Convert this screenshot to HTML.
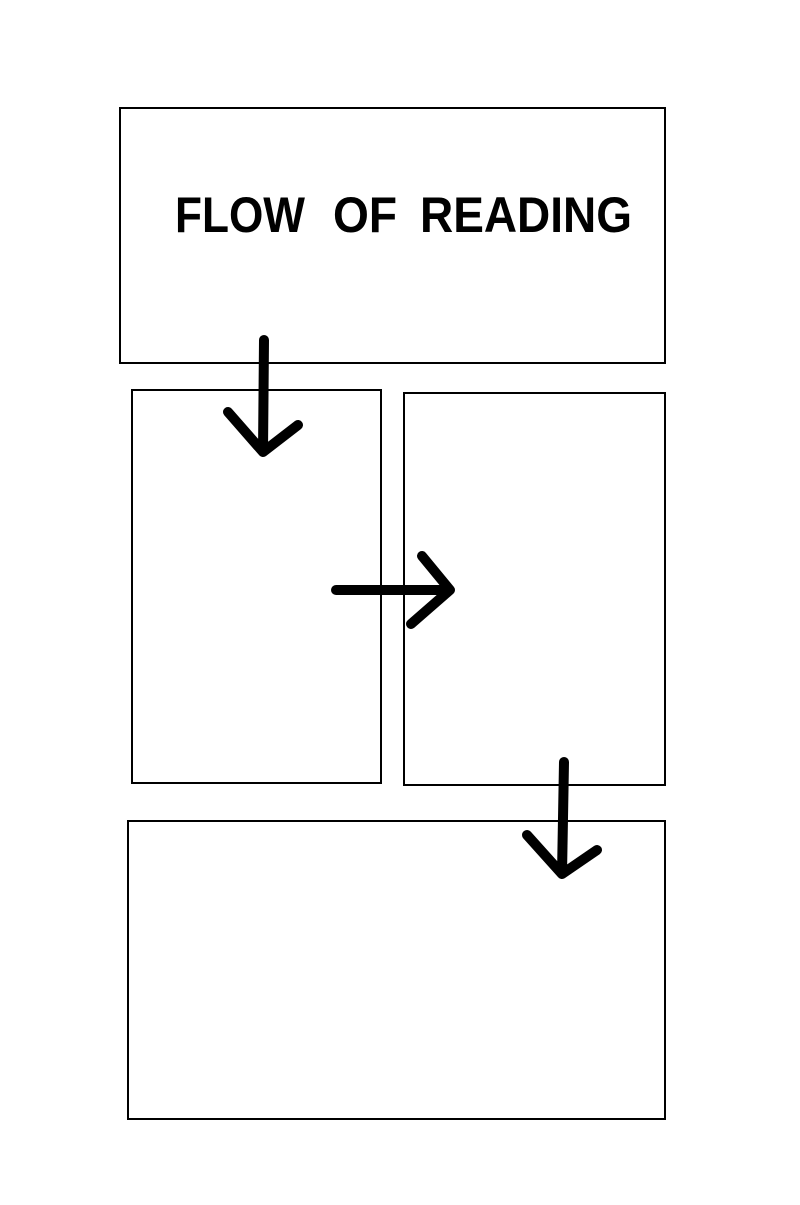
<!DOCTYPE html>
<html><head><style>body{margin:0;background:#fff}</style></head><body>
<svg width="800" height="1200" xmlns="http://www.w3.org/2000/svg">
<rect width="800" height="1200" fill="#fff"/>
<g fill="none" stroke="#000" stroke-width="2">
<rect x="120" y="108" width="545" height="255"/>
<rect x="132" y="390" width="249" height="393"/>
<rect x="404" y="393" width="261" height="392"/>
<rect x="128" y="821" width="537" height="298"/>
</g>
<g font-family="Liberation Sans, sans-serif" font-weight="bold" font-size="50">
<text x="175" y="232" textLength="130" lengthAdjust="spacingAndGlyphs">FLOW</text>
<text x="333" y="232" textLength="64" lengthAdjust="spacingAndGlyphs">OF</text>
<text x="420" y="232" textLength="212" lengthAdjust="spacingAndGlyphs">READING</text>
</g>
<g fill="none" stroke="#000" stroke-width="10" stroke-linecap="round" stroke-linejoin="round">
<path d="M264 340 L263 452 M228 412 L263 452 L298 425"/>
<path d="M336 590 L450 590 M422 556 L450 590 L411 624"/>
<path d="M564 762 L562 874 M527 835 L562 874 L597 850"/>
</g>
</svg>
</body></html>
